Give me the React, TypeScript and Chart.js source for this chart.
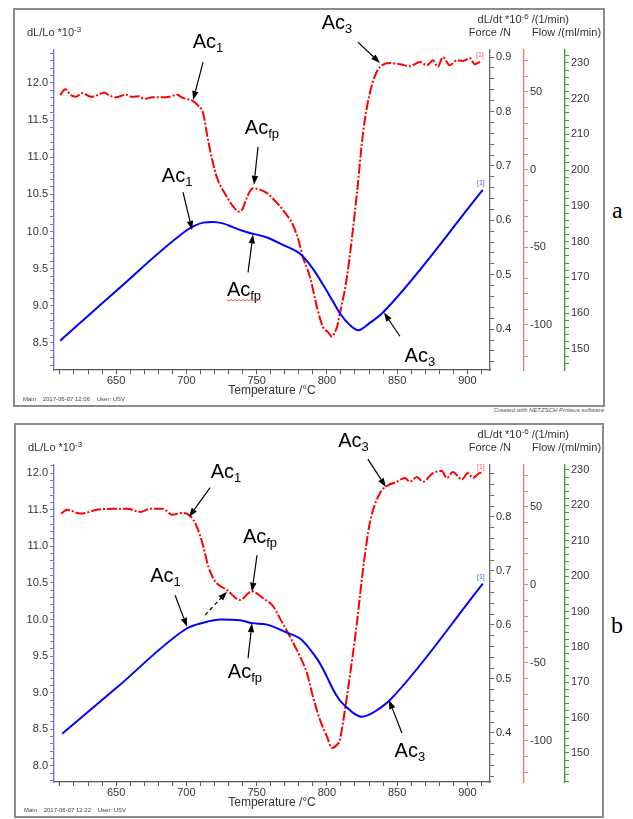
import React, { useEffect, useRef } from "react";
import { Chart, registerables } from "chart.js";
Chart.register(...registerables);

const SANS = '"Liberation Sans", Arial, Helvetica, sans-serif';
const SERIF = '"Liberation Serif", "Times New Roman", serif';

// ---------------- Panel a ----------------
const tempA_dLLo = [610.2, 650, 700.5, 706, 712, 719, 726, 733, 740, 745.3, 757.4, 768.8, 780.9, 790, 797.4, 804.3, 809.3, 816.4, 822.3, 830.6, 839.9, 911];
const dLLoA = [8.53, 9.2, 10.02, 10.08, 10.12, 10.13, 10.11, 10.06, 10.01, 9.98, 9.92, 9.82, 9.7, 9.5, 9.28, 9.06, 8.9, 8.74, 8.67, 8.77, 8.91, 10.56];
const tempA_dLdt = [610.2, 613.7, 617.8, 621.3, 626, 632, 636.7, 641.4, 645, 649.8, 656.9, 661.6, 666.4, 669.9, 675.9, 683, 687.7, 693.6, 696, 699.6, 704.3, 707.9, 711.9, 715.6, 721.6, 727.5, 733.4, 737.6, 740, 742, 745, 747.4, 752, 757.4, 763, 768.8, 775.9, 780, 783, 788, 793, 797.2, 801, 803.6, 806, 807.2, 809.3, 814.3, 821.4, 825.7, 830.6, 835, 837.8, 844.9, 852, 859.1, 866.2, 871.2, 875.5, 879, 882.6, 887.5, 892.5, 896.8, 901.8, 905.3, 910.3];
const dLdtA = [0.83, 0.841, 0.83, 0.827, 0.834, 0.827, 0.83, 0.835, 0.83, 0.826, 0.831, 0.827, 0.828, 0.823, 0.826, 0.826, 0.827, 0.831, 0.827, 0.823, 0.82, 0.812, 0.797, 0.745, 0.68, 0.649, 0.625, 0.616, 0.621, 0.635, 0.652, 0.659, 0.657, 0.65, 0.636, 0.619, 0.591, 0.562, 0.532, 0.496, 0.44, 0.404, 0.394, 0.386, 0.396, 0.404, 0.429, 0.496, 0.65, 0.76, 0.834, 0.87, 0.882, 0.889, 0.887, 0.883, 0.891, 0.885, 0.894, 0.882, 0.9, 0.885, 0.894, 0.893, 0.898, 0.887, 0.893];

// ---------------- Panel b ----------------
const tempB_dLLo = [611.6, 650.5, 700.5, 707, 714.7, 724, 738.2, 746.7, 757.4, 771.6, 780.9, 785.6, 790, 795.1, 800, 804.5, 809, 814.1, 819, 824.7, 830, 835.6, 844.9, 911];
const dLLoB = [8.44, 9.07, 9.88, 9.93, 9.97, 10.0, 9.99, 9.95, 9.93, 9.82, 9.74, 9.65, 9.54, 9.4, 9.22, 9.04, 8.9, 8.8, 8.72, 8.67, 8.7, 8.76, 8.9, 10.49];
const tempB_dLdt = [610.9, 615.2, 624.4, 636.5, 647.9, 657.8, 667.1, 674.2, 683.4, 689.8, 696.9, 702.6, 707.4, 712.1, 715.6, 719.2, 721.6, 728.7, 738.2, 746.5, 754.8, 761.9, 766.6, 773.8, 780.9, 785.8, 790.1, 795.1, 800.1, 803.6, 807.2, 809.3, 811.4, 815, 821.4, 825.7, 830.6, 837.8, 842.7, 849.8, 855.5, 859.1, 864.1, 868.3, 875.5, 881.8, 885.4, 889.7, 896.1, 900.3, 903.9, 908.9, 911];
const dLdtB = [0.806, 0.813, 0.806, 0.813, 0.815, 0.815, 0.809, 0.815, 0.815, 0.804, 0.807, 0.802, 0.782, 0.745, 0.708, 0.686, 0.677, 0.665, 0.646, 0.662, 0.649, 0.634, 0.612, 0.578, 0.541, 0.511, 0.467, 0.424, 0.393, 0.372, 0.378, 0.387, 0.418, 0.48, 0.604, 0.702, 0.789, 0.844, 0.857, 0.865, 0.872, 0.865, 0.874, 0.865, 0.881, 0.885, 0.872, 0.883, 0.869, 0.881, 0.872, 0.881, 0.881];

// ---------------- Axis ranges ----------------
const tempRange = [605.8, 916.1];
const dLLoRangeA = [8.136, 12.444];
const dLdtRangeA = [0.325, 0.913];
const forceRangeA = [-129, 77];
const flowRangeA = [144.1, 233.6];
const dLLoRangeB = [7.78, 12.11];
const dLdtRangeB = [0.309, 0.896];
const forceRangeB = [-126.3, 76.9];
const flowRangeB = [141.8, 231.4];

// tick steps: [minor, labelled]
const tempSteps = [10, 50];
const dLLoSteps = [0.1, 0.5];
const dLdtSteps = [0.02, 0.1];
const forceSteps = [10, 50];
const flowSteps = [2, 10];

// ---------------- Annotations (data coords: temperature, dL/Lo) ----------------
const annotationsA = [
  { text: "Ac", sub: "1", at: [715.4, 12.56], from: [711.9, 12.28], to: [704.8, 11.77] },
  { text: "Ac", sub: "fp", at: [753.8, 11.41], from: [751, 11.14], to: [748.1, 10.63] },
  { text: "Ac", sub: "3", at: [807.2, 12.82], from: [822.1, 12.55], to: [837.8, 12.27] },
  { text: "Ac", sub: "1", at: [693.4, 10.76], from: [697.6, 10.53], to: [704.1, 10.02] },
  { text: "Ac", sub: "fp", at: [741, 9.22], from: [743.9, 9.45], to: [747.4, 9.96], squiggle: true },
  { text: "Ac", sub: "3", at: [866.2, 8.34], from: [852, 8.59], to: [840.6, 8.91] },
];
const annotationsB = [
  { text: "Ac", sub: "1", at: [728.2, 12.03], from: [716.9, 11.8], to: [701.9, 11.4] },
  { text: "Ac", sub: "fp", at: [752.4, 11.14], from: [750.3, 10.88], to: [746.7, 10.38] },
  { text: "Ac", sub: "3", at: [818.9, 12.45], from: [829.2, 12.19], to: [842, 11.81] },
  { text: "Ac", sub: "1", at: [685.2, 10.61], from: [692, 10.33], to: [700.5, 9.9] },
  { text: "", sub: "", at: null, from: [713.3, 10.06], to: [728.9, 10.38], dashed: true },
  { text: "Ac", sub: "fp", at: [741.7, 9.29], from: [743.9, 9.47], to: [746.7, 9.95] },
  { text: "Ac", sub: "3", at: [859.1, 8.22], from: [853.4, 8.45], to: [844.2, 8.9] },
];

function pts(xs: number[], ys: number[]) {
  return xs.map((x, i) => ({ x, y: ys[i] }));
}

function richText(ctx: any, parts: any[], x: number, y: number, align: string) {
  let total = 0;
  for (const p of parts) {
    ctx.font = `${p.size}px ${SANS}`;
    total += ctx.measureText(p.t).width;
  }
  let cx = align === "right" ? x - total : align === "center" ? x - total / 2 : x;
  ctx.textAlign = "left";
  ctx.textBaseline = "alphabetic";
  for (const p of parts) {
    ctx.font = `${p.size}px ${SANS}`;
    ctx.fillText(p.t, cx, y + (p.dy || 0));
    cx += ctx.measureText(p.t).width;
  }
  return total;
}

function arrow(ctx: any, x1: number, y1: number, x2: number, y2: number, dashed: boolean) {
  const ang = Math.atan2(y2 - y1, x2 - x1);
  const head = 9, hw = 3.2;
  const bx = x2 - head * Math.cos(ang), by = y2 - head * Math.sin(ang);
  ctx.lineWidth = 1.2;
  ctx.setLineDash(dashed ? [4, 3] : []);
  ctx.beginPath();
  ctx.moveTo(x1, y1);
  ctx.lineTo(bx, by);
  ctx.stroke();
  ctx.setLineDash([]);
  ctx.beginPath();
  ctx.moveTo(x2, y2);
  ctx.lineTo(bx + hw * Math.sin(ang), by - hw * Math.cos(ang));
  ctx.lineTo(bx - hw * Math.sin(ang), by + hw * Math.cos(ang));
  ctx.closePath();
  ctx.fill();
}

function isMult(v: number, step: number) {
  const r = v / step;
  return Math.abs(r - Math.round(r)) < 1e-6;
}

function overlayPlugin(spec: any) {
  return {
    id: "overlay",
    afterDraw(chart: any) {
      const { ctx, chartArea, scales } = chart;
      const sx = scales.x, sy = scales.y;
      ctx.save();
      // axis titles
      ctx.fillStyle = "#333";
      richText(ctx, [{ t: "dL/Lo *10", size: 11 }, { t: "-3", size: 8, dy: -4 }], 12, chartArea.top - 14, "left");
      richText(ctx, [{ t: "dL/dt *10", size: 11 }, { t: "-6", size: 8, dy: -4 }, { t: " /(1/min)", size: 11 }], scales.yw.left + 4, chartArea.top - 27, "right");
      richText(ctx, [{ t: "Force /N", size: 11 }], scales.yf.left - 13, chartArea.top - 14, "right");
      richText(ctx, [{ t: "Flow /(ml/min)", size: 11 }], scales.yf.left + 8, chartArea.top - 14, "left");
      richText(ctx, [{ t: "Temperature /\u00B0C", size: 12 }], (chartArea.left + chartArea.right) / 2, chartArea.bottom + 24, "center");
      // footer
      ctx.fillStyle = "#444";
      richText(ctx, [{ t: spec.footer, size: 6 }], 8, chart.height - 4, "left");

      // [1] markers at curve ends
      const ds = chart.data.datasets;
      const lastBlue = ds[0].data[ds[0].data.length - 1];
      const lastRed = ds[1].data[ds[1].data.length - 1];
      ctx.fillStyle = "#5555ff";
      richText(ctx, [{ t: "[1]", size: 7 }], sx.getPixelForValue(lastBlue.x) - 2, sy.getPixelForValue(lastBlue.y) - 5, "center");
      ctx.fillStyle = "#ff5555";
      richText(ctx, [{ t: "[1]", size: 7 }], sx.getPixelForValue(lastRed.x) - 2, scales.yd.getPixelForValue(lastRed.y) - 4, "center");

      // annotations
      ctx.fillStyle = "#000";
      ctx.strokeStyle = "#000";
      for (const a of spec.annotations) {
        if (a.at) {
          const px = sx.getPixelForValue(a.at[0]);
          const py = sy.getPixelForValue(a.at[1]);
          ctx.fillStyle = "#000";
          const w = richText(ctx, [{ t: a.text, size: 20 }, { t: a.sub, size: 13, dy: 4 }], px, py + 7, "center");
          if (a.squiggle) {
            ctx.strokeStyle = "#e03030";
            ctx.lineWidth = 0.8;
            ctx.beginPath();
            const x0 = px - w / 2, y0 = py + 10;
            for (let k = 0; k <= Math.floor(w / 2); k++) {
              const xx = x0 + k * 2, yy = y0 + (k % 2 === 0 ? 0 : 1.5);
              if (k === 0) ctx.moveTo(xx, yy); else ctx.lineTo(xx, yy);
            }
            ctx.stroke();
            ctx.strokeStyle = "#000";
          }
        }
        if (a.from && a.to) {
          ctx.fillStyle = "#000";
          arrow(ctx, sx.getPixelForValue(a.from[0]), sy.getPixelForValue(a.from[1]), sx.getPixelForValue(a.to[0]), sy.getPixelForValue(a.to[1]), !!a.dashed);
        }
      }
      ctx.restore();
    },
  };
}

function yAxis(position: string, range: number[], steps: number[], decimals: number, color: string, width: number, weight: number) {
  return {
    type: "linear",
    position,
    weight,
    min: range[0],
    max: range[1],
    ticks: {
      stepSize: steps[0],
      includeBounds: false,
      autoSkip: false,
      padding: 2,
      color: "#333",
      font: { family: SANS, size: 11 },
      callback: (v: number) => (isMult(v, steps[1]) ? Number(v).toFixed(decimals) : ""),
    },
    grid: { display: true, drawOnChartArea: false, drawTicks: true, tickLength: 4, tickColor: color, color },
    border: { display: true, color, width: 1.3 },
    afterFit: (s: any) => {
      s.width = width;
    },
  };
}

function buildConfig(spec: any) {
  return {
    type: "line",
    data: {
      datasets: [
        {
          label: "dL/Lo",
          data: pts(spec.tBlue, spec.vBlue),
          yAxisID: "y",
          borderColor: "#0000ff",
          borderWidth: 2,
          pointRadius: 0,
          cubicInterpolationMode: "monotone",
          fill: false,
        },
        {
          label: "dL/dt",
          data: pts(spec.tRed, spec.vRed),
          yAxisID: "yd",
          borderColor: "#ff0000",
          borderWidth: 2,
          borderDash: [10, 2, 2, 2],
          pointRadius: 0,
          cubicInterpolationMode: "monotone",
          fill: false,
        },
      ],
    },
    options: {
      animation: false,
      responsive: false,
      devicePixelRatio: 1,
      parsing: false,
      layout: { padding: { top: 40, left: 0, right: 0, bottom: 0 } },
      plugins: { legend: { display: false }, tooltip: { enabled: false } },
      scales: {
        x: {
          type: "linear",
          position: "bottom",
          min: tempRange[0],
          max: tempRange[1],
          ticks: {
            stepSize: tempSteps[0],
            includeBounds: false,
            autoSkip: false,
            maxRotation: 0,
            padding: 0,
            color: "#333",
            font: { family: SANS, size: 11 },
            callback: (v: number) => (isMult(v, tempSteps[1]) ? String(Math.round(v)) : ""),
          },
          grid: { display: true, drawOnChartArea: false, drawTicks: true, tickLength: 4, tickColor: "#555", color: "#555" },
          border: { display: true, color: "#555", width: 1.2 },
          afterFit: (s: any) => {
            s.height = spec.xHeight;
          },
        },
        y: yAxis("left", spec.dLLoRange, dLLoSteps, 1, "#6f6fff", spec.leftWidth, 0),
        yd: yAxis("right", spec.dLdtRange, dLdtSteps, 1, "#666666", 34, 0),
        yf: yAxis("right", spec.forceRange, forceSteps, 0, "#ff7070", 41, 1),
        yw: yAxis("right", spec.flowRange, flowSteps, 0, "#3f8f3f", spec.flowWidth, 2),
      },
    },
    plugins: [overlayPlugin(spec)],
  };
}

function Panel({ spec }: { spec: any }) {
  const ref = useRef<HTMLCanvasElement>(null);
  useEffect(() => {
    const chart = new Chart(ref.current as HTMLCanvasElement, buildConfig(spec) as any);
    return () => chart.destroy();
  }, []);
  return (
    <div
      style={{
        position: "absolute",
        left: spec.left,
        top: spec.top,
        width: spec.w,
        height: spec.h,
        border: "2px solid #8c8c8c",
        background: "#fff",
      }}
    >
      <canvas ref={ref} width={spec.w} height={spec.h} style={{ display: "block", width: spec.w, height: spec.h }} />
    </div>
  );
}

// panel positions are relative to the root box (which sits at the 8px body margin)
const specA = {
  left: 5, top: 0, w: 588, h: 395, leftWidth: 39, flowWidth: 38, xHeight: 35,
  tBlue: tempA_dLLo, vBlue: dLLoA, tRed: tempA_dLdt, vRed: dLdtA,
  dLLoRange: dLLoRangeA, dLdtRange: dLdtRangeA, forceRange: forceRangeA, flowRange: flowRangeA,
  annotations: annotationsA, footer: "Main    2017-06-07 12:06    User: USV",
};
const specB = {
  left: 6, top: 415, w: 586, h: 391, leftWidth: 38, flowWidth: 37, xHeight: 34,
  tBlue: tempB_dLLo, vBlue: dLLoB, tRed: tempB_dLdt, vRed: dLdtB,
  dLLoRange: dLLoRangeB, dLdtRange: dLdtRangeB, forceRange: forceRangeB, flowRange: flowRangeB,
  annotations: annotationsB, footer: "Main    2017-06-07 12:22    User: USV",
};

export default function App() {
  return (
    <div style={{ position: "relative", width: 617, height: 811 }}>
      <Panel spec={specA} />
      <div
        style={{
          position: "absolute", left: 396, top: 399, width: 200, textAlign: "right",
          font: `italic 6px ${SANS}`, color: "#555", whiteSpace: "nowrap",
        }}
      >
        Created with NETZSCH Proteus software
      </div>
      <Panel spec={specB} />
      <div style={{ position: "absolute", left: 604, top: 190, font: `24px ${SERIF}`, lineHeight: "24px", color: "#000" }}>a</div>
      <div style={{ position: "absolute", left: 603, top: 605, font: `24px ${SERIF}`, lineHeight: "24px", color: "#000" }}>b</div>
    </div>
  );
}
